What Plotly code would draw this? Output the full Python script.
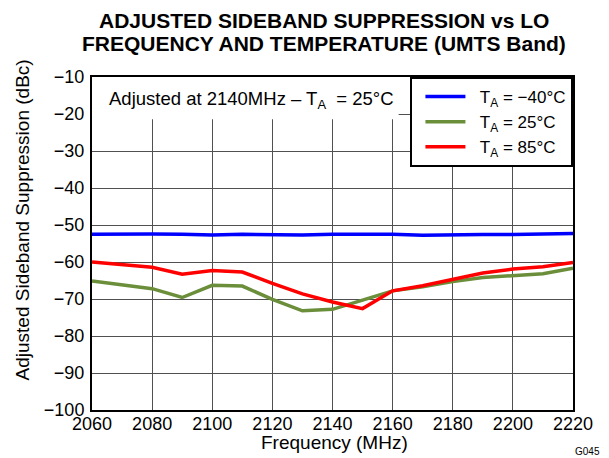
import plotly.graph_objects as go

freq = [2060, 2070, 2080, 2090, 2100, 2110, 2120, 2130, 2140, 2150, 2160, 2170, 2180, 2190, 2200, 2210, 2220]
ssb_m40 = [-52.5, -52.4, -52.4, -52.5, -52.7, -52.5, -52.6, -52.7, -52.5, -52.4, -52.5, -52.8, -52.6, -52.6, -52.6, -52.5, -52.3]
ssb_25 = [-65.1, -66.1, -67.2, -69.6, -66.3, -66.5, -70.1, -73.2, -72.8, -70.3, -67.8, -66.7, -65.3, -64.2, -63.6, -63.2, -61.7]
ssb_85 = [-60.0, -60.7, -61.4, -63.3, -62.3, -62.7, -65.8, -68.6, -70.8, -72.6, -67.8, -66.4, -64.7, -63.0, -61.9, -61.3, -60.1]

names = ["\u00a0\u00a0T<sub>A</sub> = \u221240\u00b0C", "\u00a0\u00a0T<sub>A</sub> = 25\u00b0C", "\u00a0\u00a0T<sub>A</sub> = 85\u00b0C"]
colors = ["#0000FF", "#6B8E3A", "#FF0000"]
x_ticks = [2060, 2080, 2100, 2120, 2140, 2160, 2180, 2200, 2220]
y_ticks = [-100, -90, -80, -70, -60, -50, -40, -30, -20, -10]

FONT = "Liberation Sans, Arial, sans-serif"

fig = go.Figure()
for ys, nm, c in zip([ssb_m40, ssb_25, ssb_85], names, colors):
    fig.add_trace(go.Scatter(x=freq, y=ys, mode="lines", name=nm,
                             line=dict(color=c, width=3.5)))

axis_common = dict(showline=True, linecolor="black", linewidth=2, mirror=True,
                   showgrid=True, gridcolor="#505050", gridwidth=1,
                   zeroline=False, ticks="", tickfont=dict(size=18, color="black", family=FONT))

# page has an 8px body margin, so the figure is 8px smaller and margins reduced by 8
fig.update_layout(
    width=601, height=450,
    margin=dict(l=84, r=36, t=69, b=48),
    paper_bgcolor="white", plot_bgcolor="white",
    font=dict(family=FONT, color="black"),
    xaxis=dict(range=[2060, 2220], tickvals=x_ticks, ticklabelstandoff=-4, **axis_common),
    yaxis=dict(range=[-100, -10], tickvals=y_ticks, ticklabelstandoff=2, **axis_common),
    legend=dict(x=0.662, xanchor="left", y=1.0, yanchor="top",
                bgcolor="white", bordercolor="black", borderwidth=2,
                font=dict(size=17, family=FONT), tracegroupgap=0,
                itemwidth=40, indentation=8),
    showlegend=True,
)

fig.add_shape(type="rect", xref="x", yref="y", x0=2060, x1=2162, y0=-21.4, y1=-10,
              fillcolor="white", line=dict(width=0), layer="between")

ann_font = dict(family=FONT, color="black")
fig.add_annotation(text="<b>ADJUSTED SIDEBAND SUPPRESSION vs LO</b>", xref="paper", yref="paper",
                   x=0.483, y=1.171, xanchor="center", yanchor="middle", showarrow=False,
                   font=dict(size=21, **ann_font))
fig.add_annotation(text="<b>FREQUENCY AND TEMPERATURE (UMTS Band)</b>", xref="paper", yref="paper",
                   x=0.483, y=1.102, xanchor="center", yanchor="middle", showarrow=False,
                   font=dict(size=21, **ann_font))
fig.add_annotation(text="Frequency (MHz)", xref="paper", yref="paper",
                   x=0.504, y=-0.098, xanchor="center", yanchor="middle", showarrow=False,
                   font=dict(size=19, **ann_font))
fig.add_annotation(text="Adjusted Sideband Suppression (dBc)", xref="paper", yref="paper",
                   x=-0.145, y=0.57, xanchor="center", yanchor="middle", showarrow=False,
                   textangle=-90, font=dict(size=19, **ann_font))
fig.add_annotation(text="Adjusted at 2140MHz \u2013 T<sub>A</sub>  = 25\u00b0C",
                   xref="paper", yref="paper", x=0.031, y=0.931, xanchor="left", yanchor="middle",
                   showarrow=False, font=dict(size=18.5, **ann_font))
fig.add_annotation(text="G045", xref="paper", yref="paper", x=1.06, y=-0.126,
                   xanchor="right", yanchor="middle", showarrow=False,
                   font=dict(size=10, **ann_font))

fig.write_html("out.html")
